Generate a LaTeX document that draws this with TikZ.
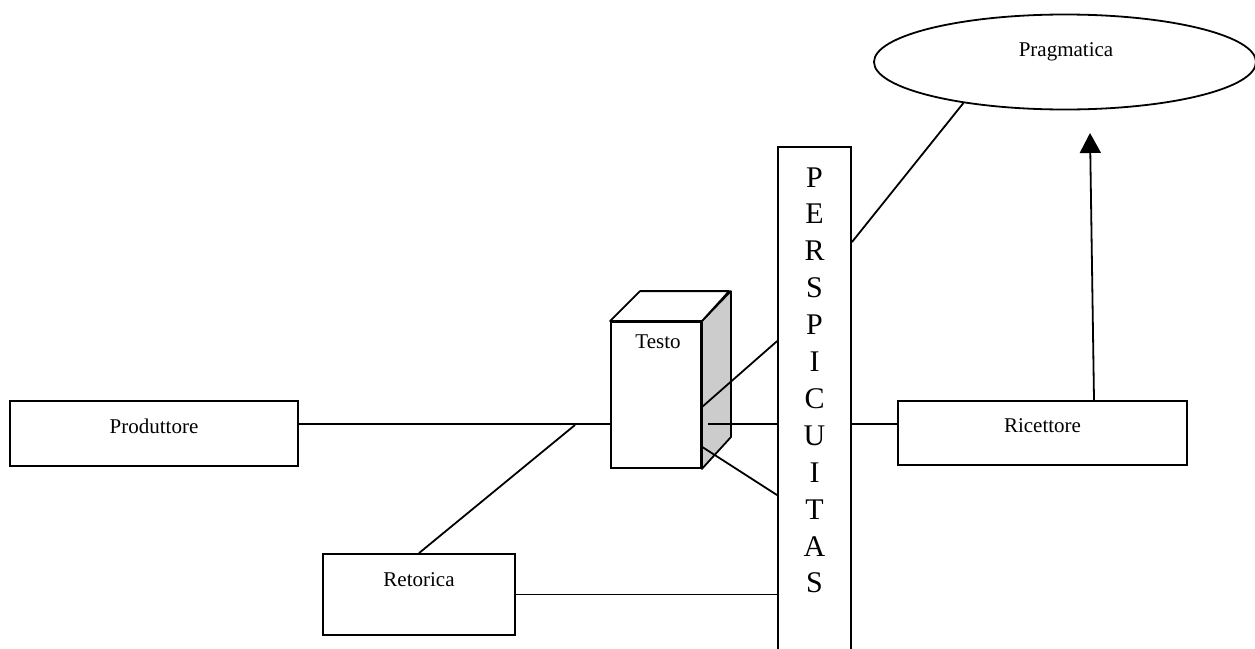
\documentclass[tikz,border=0pt]{standalone}
\usepackage{fontspec}
\setmainfont{Liberation Serif}
\usetikzlibrary{shapes.geometric,arrows.meta,calc}
\definecolor{sidegray}{RGB}{204,204,204}
\begin{document}
\begin{tikzpicture}[x=1pt,y=-1pt,line width=1.8pt,
  box/.style={draw,rectangle,inner sep=0pt},
  lbl/.style={anchor=base,inner sep=0pt,font=\fontsize{21}{25}\selectfont},
  letter/.style={anchor=base,inner sep=0pt,font=\fontsize{30}{37}\selectfont}]
\useasboundingbox (0,0) rectangle (1255,648);
\clip (0,0) rectangle (1255,648);
\fill[white] (0,0) rectangle (1255,648);
% boxes
\node[box,minimum width=288pt,minimum height=65pt] (prod) at (154,433.5) {};
\node[lbl] (prodl) at (154,433) {Produttore};
\node[box,minimum width=289pt,minimum height=64pt] (ric) at (1042.5,433) {};
\node[lbl] (ricl) at (1042.5,432) {Ricettore};
\node[box,minimum width=192pt,minimum height=81pt] (ret) at (419,594.5) {};
\node[lbl] (retl) at (419,586) {Retorica};
\node[draw,ellipse,inner sep=0pt,minimum width=382pt,minimum height=95pt] (prag) at (1065,62) {};
\node[lbl] (pragl) at (1066,56) {Pragmatica};
% perspicuitas
\node[box,minimum width=73pt,minimum height=600pt] (persp) at (814.5,447) {};
\foreach \c [count=\i] in {P,E,R,S,P,I,C,U,I,T,A,S}
  \node[letter] (l\i) at (814.5,{187+36.9*(\i-1)}) {\c};
% testo cube
\node[box,fill=white,minimum width=90pt,minimum height=146pt] (testo) at (656,395) {};
\draw[fill=sidegray,line join=round] (testo.north east) -- ++(29,-30) -- ++(0,146) -- (testo.south east) -- cycle;
\draw[fill=white,line join=round] (testo.north west) -- ++(30,-30) -- ++(89,0) -- (testo.north east) -- cycle;
\node[lbl] (testol) at (658,348) {Testo};
% coordinates
\coordinate (pj) at (575,425);
\coordinate (ta) at ($(testo.north east)+(0,86)$);
\coordinate (tb) at ($(testo.north east)+(6,103)$);
\coordinate (tc) at ($(testo.north east)+(-1,125)$);
\coordinate (arrtip) at (1090,133);
% connectors
\draw ($(prod.north east)+(0,24)$) -- ($(testo.north west)+(0,103)$);
\draw (ret.north) -- (pj);
\draw (ret.east) -- (persp.west |- ret.east);
\draw (ta) -- ($(persp.north west)+(0,195)$);
\draw (tb) -- (persp.west |- tb);
\draw (tc) -- ($(persp.north west)+(0,349)$);
\draw ($(persp.north east)+(0,278)$) -- ($(ric.north west)+(0,24)$);
\draw ($(persp.north east)+(0,96)$) -- (prag.202.5);
\draw[-{Triangle[width=21pt,length=20pt]}] ($(ric.north)+(51.5,0)$) -- (arrtip);
\end{tikzpicture}
\end{document}
